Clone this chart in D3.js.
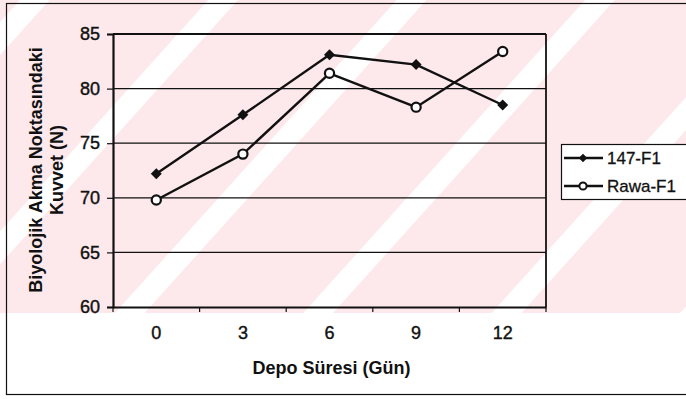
<!DOCTYPE html>
<html>
<head>
<meta charset="utf-8">
<script src="https://cdn.jsdelivr.net/npm/d3@7/dist/d3.min.js"></script>
<style>
  body { margin: 0; background: #fff; }
  svg { display: block; font-family: "Liberation Sans", Arial, sans-serif; }
</style>
</head>
<body>
<div id="chart"></div>
<script>
// Chart data
const days = ["0", "3", "6", "9", "12"];
const seriesNames = ["147-F1", "Rawa-F1"];
const values147 = [72.2, 77.6, 83.1, 82.2, 78.5];
const valuesRawa = [69.8, 74.0, 81.4, 78.3, 83.4];
const yTicks = [60, 65, 70, 75, 80, 85];

class LineChart {
    constructor(_config) {
        this.config = {
            parentElement: _config.parentElement,
            containerWidth: 686,
            containerHeight: 399,
            plot: { left: 113, right: 546, top: 34, bottom: 307 },
            stripeColor: "#fde9ec"
        };
        this.initVis();
    }

    initVis() {
        let vis = this;
        const p = vis.config.plot;

        vis.svg = d3.select(vis.config.parentElement)
            .append("svg")
            .attr("width", vis.config.containerWidth)
            .attr("height", vis.config.containerHeight);

        // background watermark: pink band with white diagonals
        const defs = vis.svg.append("defs");
        const pat = defs.append("pattern")
            .attr("id", "stripes")
            .attr("patternUnits", "userSpaceOnUse")
            .attr("width", 140)
            .attr("height", 140)
            .attr("patternTransform", "translate(20,0) rotate(42)");
        pat.append("rect").attr("width", 140).attr("height", 140).attr("fill", vis.config.stripeColor);
        pat.append("rect").attr("x", 0).attr("width", 22).attr("height", 140).attr("fill", "#fff");

        vis.svg.append("rect")
            .attr("x", 0).attr("y", 0)
            .attr("width", vis.config.containerWidth)
            .attr("height", 313)
            .attr("fill", "url(#stripes)");

        // outer chart border
        vis.svg.append("rect")
            .attr("x", 6.5).attr("y", 3.5)
            .attr("width", 720).attr("height", 391)
            .attr("fill", "none")
            .attr("stroke", "#111")
            .attr("stroke-width", 1.2);

        vis.xScale = d3.scaleBand()
            .domain(days)
            .range([p.left, p.right]);

        vis.yScale = d3.scaleLinear()
            .domain([60, 85])
            .range([p.bottom, p.top]);

        // gridlines
        vis.svg.append("g")
            .selectAll("line")
            .data(yTicks.filter(d => d > 60))
            .join("line")
            .attr("x1", p.left).attr("x2", p.right)
            .attr("y1", d => vis.yScale(d)).attr("y2", d => vis.yScale(d))
            .attr("stroke", "#111")
            .attr("stroke-width", d => d === 85 ? 2 : 1.3);

        // right border of plot area
        vis.svg.append("line")
            .attr("x1", p.right).attr("x2", p.right)
            .attr("y1", p.top).attr("y2", p.bottom)
            .attr("stroke", "#111")
            .attr("stroke-width", 1.8);

        // Y axis
        vis.yAxis = d3.axisLeft(vis.yScale)
            .tickValues(yTicks)
            .tickSize(6)
            .tickPadding(7);

        const yAxisG = vis.svg.append("g")
            .attr("class", "y-axis")
            .attr("transform", `translate(${p.left},0)`)
            .call(vis.yAxis);
        yAxisG.select(".domain").attr("stroke", "#111").attr("stroke-width", 2.2);
        yAxisG.selectAll(".tick line").attr("stroke", "#111").attr("stroke-width", 1.2);
        yAxisG.selectAll("text")
            .attr("font-size", "18px")
            .attr("fill", "#111")
            .attr("stroke", "#111")
            .attr("stroke-width", 0.4);

        // X axis: labels at band centres, tick marks on band edges
        vis.xAxis = d3.axisBottom(vis.xScale)
            .tickSize(0)
            .tickPadding(19);

        const xAxisG = vis.svg.append("g")
            .attr("class", "x-axis")
            .attr("transform", `translate(0,${p.bottom})`)
            .call(vis.xAxis);
        xAxisG.select(".domain").attr("stroke", "#111").attr("stroke-width", 1.8);
        xAxisG.selectAll("text")
            .attr("font-size", "18px")
            .attr("fill", "#111")
            .attr("stroke", "#111")
            .attr("stroke-width", 0.4);

        const edges = days.map(d => vis.xScale(d)).concat([vis.xScale.range()[1]]);
        xAxisG.selectAll(".edge-tick")
            .data(edges)
            .join("line")
            .attr("class", "edge-tick")
            .attr("x1", d => d).attr("x2", d => d)
            .attr("y1", 0).attr("y2", 5)
            .attr("stroke", "#111")
            .attr("stroke-width", 1.2);

        // axis titles
        vis.svg.append("text")
            .attr("x", (p.left + p.right) / 2 + 2)
            .attr("y", 374)
            .attr("text-anchor", "middle")
            .attr("font-size", "18px")
            .attr("font-weight", "bold")
            .attr("fill", "#111")
            .text("Depo Süresi (Gün)");

        const yTitle = vis.svg.append("text")
            .attr("transform", `translate(42,170) rotate(-90)`)
            .attr("text-anchor", "middle")
            .attr("font-size", "18px")
            .attr("font-weight", "bold")
            .attr("fill", "#111");
        yTitle.append("tspan").attr("x", 0).attr("dy", 0).text("Biyolojik Akma Noktasındaki");
        yTitle.append("tspan").attr("x", 0).attr("dy", 21).text("Kuvvet (N)");

        vis.series = [
            { name: seriesNames[0], values: values147, marker: "diamond" },
            { name: seriesNames[1], values: valuesRawa, marker: "circle" }
        ];

        const cx = d => vis.xScale(d.day) + vis.xScale.bandwidth() / 2;
        const line = d3.line()
            .x(cx)
            .y(d => vis.yScale(d.value));

        vis.series.forEach(s => {
            const pts = s.values.map((v, i) => ({ day: days[i], value: v }));
            vis.svg.append("path")
                .datum(pts)
                .attr("fill", "none")
                .attr("stroke", "#111")
                .attr("stroke-width", 2.4)
                .attr("d", line);

            if (s.marker === "diamond") {
                vis.svg.selectAll(null)
                    .data(pts)
                    .join("path")
                    .attr("d", d3.symbol(d3.symbolSquare, 60))
                    .attr("transform", d => `translate(${cx(d)},${vis.yScale(d.value)}) rotate(45)`)
                    .attr("fill", "#111");
            } else {
                vis.svg.selectAll(null)
                    .data(pts)
                    .join("circle")
                    .attr("cx", cx)
                    .attr("cy", d => vis.yScale(d.value))
                    .attr("r", 4.6)
                    .attr("fill", "#fff")
                    .attr("stroke", "#111")
                    .attr("stroke-width", 2.2);
            }
        });

        // Legend
        const legend = vis.svg.append("g").attr("transform", "translate(561,144)");
        legend.append("rect")
            .attr("x", 0.5).attr("y", 0.5)
            .attr("width", 160).attr("height", 55)
            .attr("fill", "#fff")
            .attr("stroke", "#111")
            .attr("stroke-width", 1.2);

        const rows = legend.selectAll(".row")
            .data(vis.series)
            .join("g")
            .attr("class", "row")
            .attr("transform", (d, i) => `translate(0,${14 + i * 28})`);
        rows.append("line")
            .attr("x1", 3).attr("x2", 42)
            .attr("stroke", "#111")
            .attr("stroke-width", 2.4);
        rows.filter(d => d.marker === "diamond")
            .append("path")
            .attr("d", d3.symbol(d3.symbolSquare, 36))
            .attr("transform", "translate(22,0) rotate(45)")
            .attr("fill", "#111");
        rows.filter(d => d.marker === "circle")
            .append("circle")
            .attr("cx", 22).attr("r", 3.6)
            .attr("fill", "#fff")
            .attr("stroke", "#111")
            .attr("stroke-width", 2);
        rows.append("text")
            .attr("x", 46)
            .attr("dy", "0.36em")
            .attr("font-size", "17px")
            .attr("fill", "#111")
            .attr("stroke", "#111")
            .attr("stroke-width", 0.3)
            .text(d => d.name);
    }
}

new LineChart({ parentElement: "#chart" });
</script>
</body>
</html>
